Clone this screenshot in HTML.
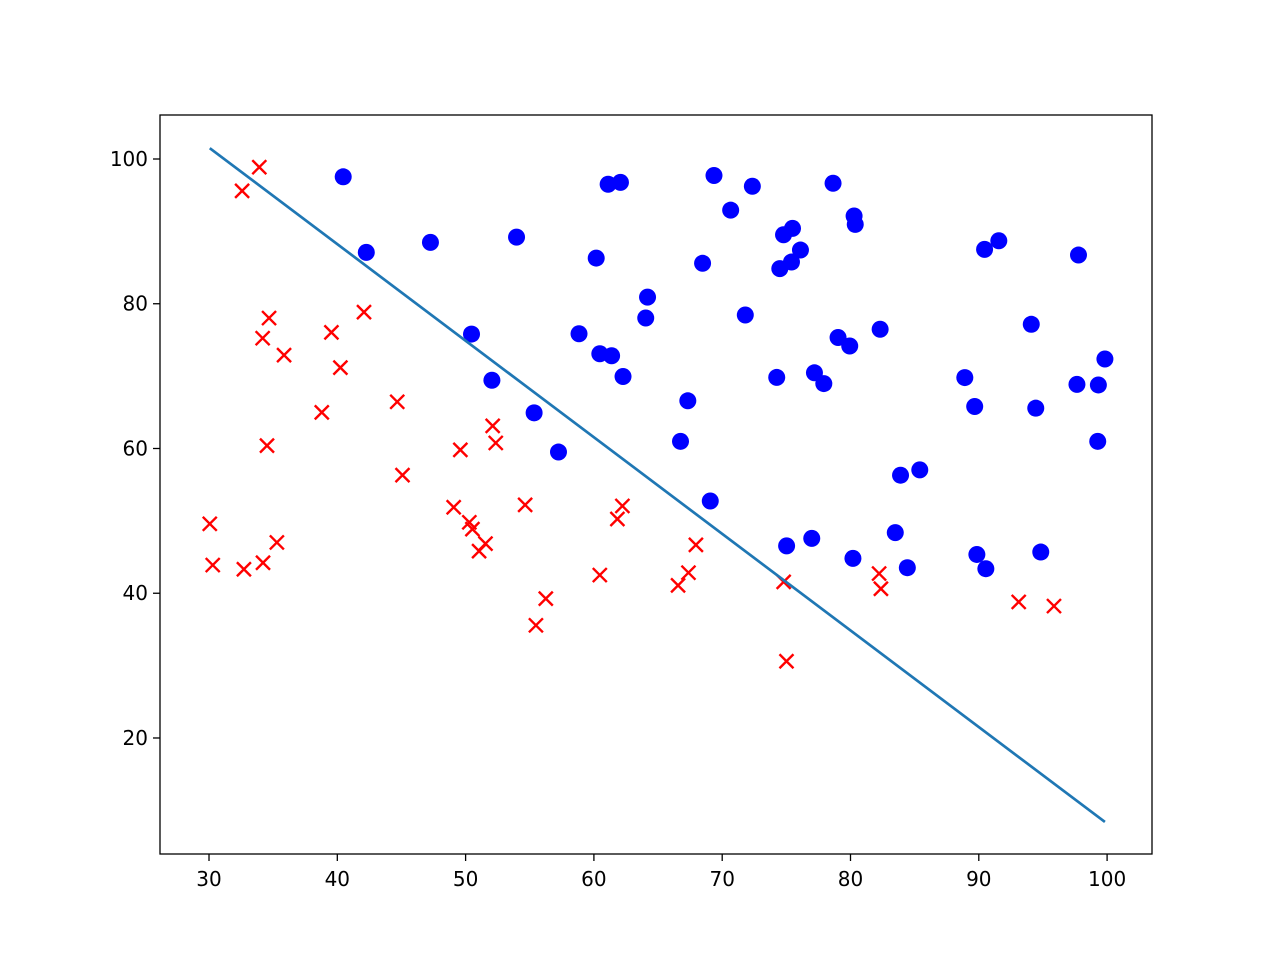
<!DOCTYPE html>
<html><head><meta charset="utf-8"><style>
html,body{margin:0;padding:0;background:#fff;}
svg text{font-family:"DejaVu Sans","Liberation Sans",sans-serif;font-size:20px;fill:#000;}
</style></head><body>
<svg id="chart" width="1280" height="960" xmlns="http://www.w3.org/2000/svg">
<rect width="1280" height="960" fill="#fff"/>
<g id="marks"></g>
<g id="axes"></g>
</svg>
<script>
const admittedX=[60.18,79.03,61.11,75.02,76.10,84.43,82.31,69.36,53.97,69.07,70.66,76.98,89.68,77.92,62.27,80.19,61.38,85.40,52.05,64.18,83.90,94.44,77.19,97.77,62.07,91.56,79.94,99.27,90.55,97.65,74.25,71.80,75.40,40.46,80.28,66.75,64.04,72.35,60.46,58.84,99.83,47.26,50.46,88.91,94.83,67.32,57.24,80.37,68.47,75.48,78.64,94.09,90.45,74.49,89.85,83.49,42.26,99.32,55.34,74.78];
const admittedY=[86.31,75.34,96.51,46.55,87.42,43.53,76.48,97.72,89.21,52.74,92.93,47.58,65.80,68.97,69.95,44.82,72.81,57.05,69.43,80.91,56.31,65.57,70.46,86.73,96.77,88.70,74.16,60.99,43.39,68.86,69.82,78.45,85.76,97.54,92.12,60.99,78.03,96.23,73.09,75.86,72.37,88.48,75.81,69.80,45.69,66.59,59.51,90.96,85.59,90.42,96.65,77.16,87.51,84.85,45.36,48.38,87.10,68.78,64.93,89.53];
const rejectedX=[30.29,35.85,45.08,95.86,75.01,39.54,67.95,67.37,50.53,34.21,93.11,61.83,38.79,52.11,40.24,54.64,33.92,74.79,34.18,51.55,82.37,51.05,62.22,34.52,50.29,49.59,32.58,35.29,56.25,30.06,44.67,66.56,49.07,32.72,60.46,82.23,42.08,52.35,55.48,34.68];
const rejectedY=[43.89,72.90,56.32,38.23,30.60,76.04,46.68,42.84,48.86,44.21,38.80,50.26,64.99,63.13,71.17,52.21,98.87,41.57,75.24,46.86,40.62,45.82,52.06,60.40,49.80,59.81,95.60,47.02,39.26,49.59,66.45,41.09,51.88,43.31,42.51,42.72,78.84,60.77,35.57,78.02];
const boundaryX=[30.06,99.83];
const boundaryY=[101.5,8.4];
const xTicks=[30,40,50,60,70,80,90,100];
const yTicks=[20,40,60,80,100];

const L=160,R=1152,T=115,B=854;
const xMin=26.18,xMax=103.5,yMin=3.97,yMax=106.08;
const sx=v=>L+(v-xMin)/(xMax-xMin)*(R-L);
const sy=v=>B-(v-yMin)/(yMax-yMin)*(B-T);
const NS="http://www.w3.org/2000/svg";
const marks=document.getElementById('marks'),axes=document.getElementById('axes');
function mk(tag,attrs,parent){const e=document.createElementNS(NS,tag);for(const k in attrs)e.setAttribute(k,attrs[k]);parent.appendChild(e);return e;}

for(let i=0;i<admittedX.length;i++){
  const c=mk('circle',{cx:sx(admittedX[i]),cy:sy(admittedY[i]),r:8.5,fill:'#0000ff'},marks);
  
  
}
for(let i=0;i<rejectedX.length;i++){
  const x=sx(rejectedX[i]),y=sy(rejectedY[i]),d=7;
  const p=mk('path',{d:`M${x-d},${y-d}L${x+d},${y+d}M${x-d},${y+d}L${x+d},${y-d}`,stroke:'#ff0000','stroke-width':2.4,fill:'none'},marks);
  
  
}
const ln=mk('line',{x1:sx(boundaryX[0]),y1:sy(boundaryY[0]),x2:sx(boundaryX[1]),y2:sy(boundaryY[1]),stroke:'#1f77b4','stroke-width':2.7},marks);



const fr=mk('rect',{x:L,y:T,width:R-L,height:B-T,fill:'none',stroke:'#000','stroke-width':1.3},axes);


xTicks.forEach(v=>{
  const x=sx(v);
  const t=mk('line',{x1:x,y1:B,x2:x,y2:B+7,stroke:'#000','stroke-width':1.3},axes);
  
  
  const lb=mk('text',{x:x,y:B+32,'text-anchor':'middle'},axes);lb.textContent=v;
  
  
});
yTicks.forEach(v=>{
  const y=sy(v);
  const t=mk('line',{x1:L-7,y1:y,x2:L,y2:y,stroke:'#000','stroke-width':1.3},axes);
  
  
  const lb=mk('text',{x:L-12,y:y+7,'text-anchor':'end'},axes);lb.textContent=v;
  
  
});
</script>
</body></html>
